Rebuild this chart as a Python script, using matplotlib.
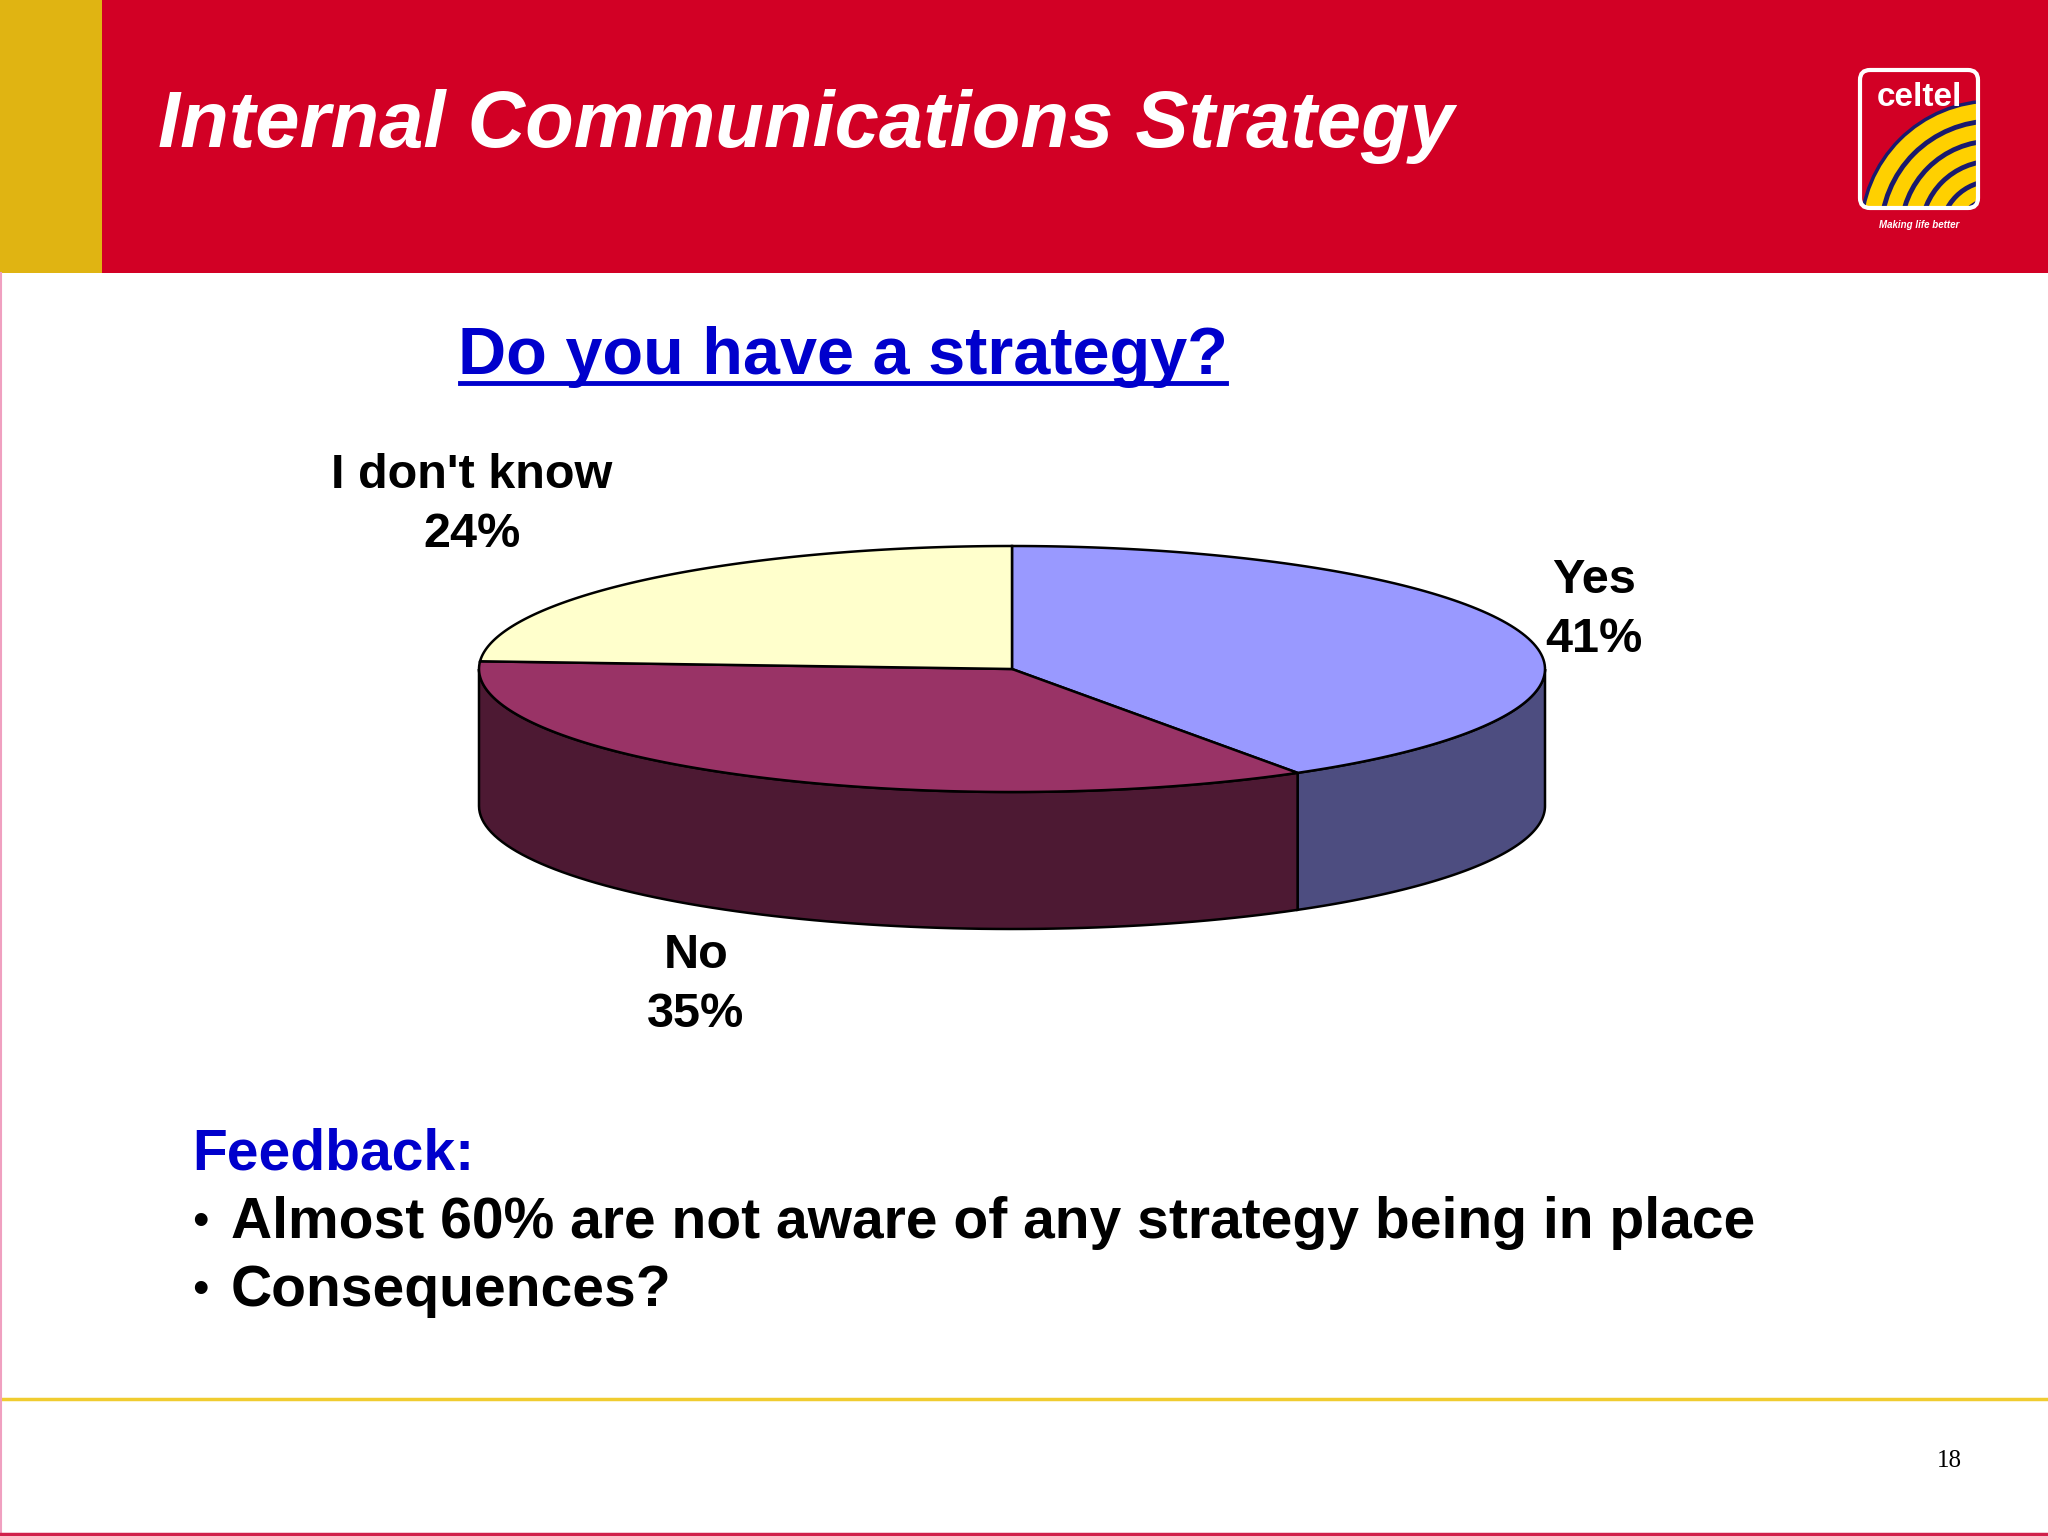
import numpy as np
import matplotlib
matplotlib.use("Agg")
import matplotlib.pyplot as plt
from matplotlib.patches import Polygon, Rectangle, FancyBboxPatch, Wedge, Arc

# survey data
labels = ["Yes", "No", "I don't know"]
values = [41, 35, 24]
top_colors = ["#9999FF", "#993366", "#FFFFCC"]
side_colors = ["#4D4D80", "#4D1933", "#80805F"]

title = "Internal Communications Strategy"
question = "Do you have a strategy?"
feedback_head = "Feedback:"
feedback_lines = ["Almost 60% are not aware of any strategy being in place",
                  "Consequences?"]
page_no = "18"

W, H = 2048, 1536
fig = plt.figure(figsize=(W / 100, H / 100), dpi=100)
ax = fig.add_axes([0, 0, 1, 1])
ax.set_xlim(0, W)
ax.set_ylim(H, 0)
ax.axis("off")

# header band
ax.add_patch(Rectangle((0, 0), 102, 273, color="#E0B412", lw=0))
ax.add_patch(Rectangle((102, 0), W - 102, 273, color="#D20025", lw=0))
ax.text(158, 127, title, color="white", fontsize=57.3, fontweight="bold",
        fontstyle="italic", family="Liberation Sans", va="center", ha="left")

# logo
lx0, ly0, lw_, lh_ = 1860, 70, 118, 138
box = FancyBboxPatch((lx0, ly0), lw_, lh_, boxstyle="round,pad=0,rounding_size=10",
                     fc="#D20025", ec="none", lw=0, zorder=3)
ax.add_patch(box)
ctr = (lx0 + lw_ + 15, ly0 + lh_ + 25)
w = Wedge(ctr, 132, 180, 270, fc="#FFD000", ec="#1A1A6E", lw=2.5, zorder=4)
w.set_clip_path(box)
ax.add_patch(w)
for r in [112, 92, 72, 52, 34]:
    a = Arc(ctr, 2 * r, 2 * r, theta1=180, theta2=270, color="#1A1A6E", lw=3.5, zorder=5)
    a.set_clip_path(box)
    ax.add_patch(a)
ax.add_patch(FancyBboxPatch((lx0, ly0), lw_, lh_, boxstyle="round,pad=0,rounding_size=10",
                            fc="none", ec="white", lw=3, zorder=6))
ax.text(lx0 + lw_ / 2, ly0 + 27, "celtel", color="white", fontsize=24,
        fontweight="bold", family="Liberation Sans", ha="center", va="center", zorder=5)
ax.text(lx0 + lw_ / 2, 225, "Making life better", color="white", fontsize=7,
        fontweight="bold", fontstyle="italic", family="Liberation Sans",
        ha="center", va="center")

# question with underline
q = ax.text(843, 357, question, color="#0000CC", fontsize=48, fontweight="bold",
            family="Liberation Sans", ha="center", va="center")
fig.canvas.draw()
bb = q.get_window_extent().transformed(ax.transData.inverted())
ax.plot([bb.x0 + 2, bb.x1 - 2], [383, 383], color="#0000CC", lw=3.5)

# 3D-looking pie
cx, cy, rx, ry, depth = 1012, 669, 533, 123, 137
fr = np.array(values) / sum(values)
starts = 90 - 360 * np.concatenate([[0], np.cumsum(fr)[:-1]])
ends = starts - 360 * fr


def pt(t, dz=0):
    t = np.radians(t)
    return cx + rx * np.cos(t), cy - ry * np.sin(t) + dz


# side faces (front half only: angles between -180 and 0)
for s, e, c in zip(starts, ends, side_colors):
    a1, a2 = max(e, -180), min(s, 0)
    if a2 <= a1:
        continue
    ts = np.linspace(a2, a1, 80)
    top = [pt(t) for t in ts]
    bot = [pt(t, depth) for t in ts[::-1]]
    ax.add_patch(Polygon(top + bot, closed=True, fc=c, ec="black", lw=1.8, zorder=2))

# top faces
for s, e, c in zip(starts, ends, top_colors):
    ts = np.linspace(s, e, 120)
    poly = [(cx, cy)] + [pt(t) for t in ts]
    ax.add_patch(Polygon(poly, closed=True, fc=c, ec="black", lw=1.8, zorder=3))

label_pos = [(1594, 610), (696, 985), (472, 505)]
for lab, v, (x, y) in zip(labels, values, label_pos):
    ax.text(x, y, f"{lab}\n{v}%", fontsize=35, fontweight="bold",
            family="Liberation Sans", ha="center", va="center", linespacing=1.4)

# feedback
ax.text(192, 1154, feedback_head, color="#0000CC", fontsize=41, fontweight="bold",
        family="Liberation Sans", ha="left", va="center")
for i, line in enumerate(feedback_lines):
    y = 1223 + i * 68
    ax.text(192, y, "\u2022", fontsize=34, family="Liberation Sans",
            ha="left", va="center")
    ax.text(231, y, line, fontsize=41, fontweight="bold",
            family="Liberation Sans", ha="left", va="center")

# footer
ax.plot([0, W], [1399, 1399], color="#F0CC30", lw=2.5)
ax.plot([1, 1], [273, H], color="#F0A0C0", lw=1.5)
ax.plot([0, W], [1534, 1534], color="#D0204A", lw=2.5)
ax.text(1949, 1461, page_no, fontsize=18, family="Liberation Serif",
        ha="center", va="center")

fig.savefig("out.png", dpi=100, facecolor="white")
